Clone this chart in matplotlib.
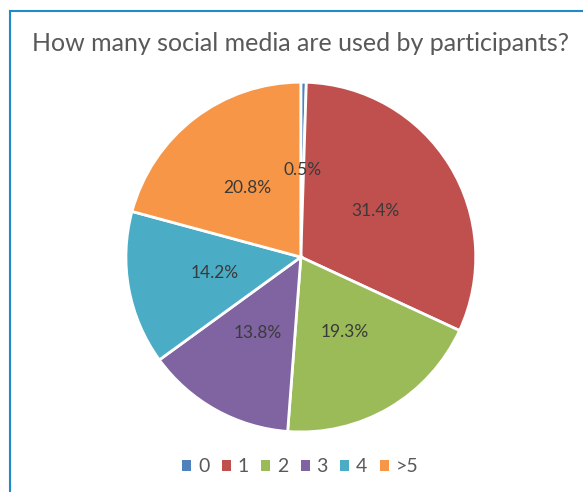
import matplotlib.pyplot as plt
from matplotlib.lines import Line2D
from matplotlib.patches import Patch

# data
categories = ['0', '1', '2', '3', '4', '>5']
shares = [0.5, 31.4, 19.3, 13.8, 14.2, 20.8]
colors = ['#4F81BD', '#C0504D', '#9BBB59', '#8064A2', '#4BACC6', '#F79646']
title = 'How many social media are used by participants?'

plt.rcParams['font.family'] = ['Lato', 'DejaVu Sans']

fig = plt.figure(figsize=(5.83, 4.92), dpi=100)
ax = fig.add_axes([0.216, 0.122, 0.600, 0.711])

wedges, texts, autotexts = ax.pie(
    shares, colors=colors, startangle=90, counterclock=False,
    autopct='%.1f%%', pctdistance=0.5,
    wedgeprops=dict(edgecolor='white', linewidth=2),
    textprops=dict(color='#3A3A3A', fontsize=12.5))
ax.set_aspect('equal')
ax.set_xlim(-1.0, 1.0)
ax.set_ylim(-1.0, 1.0)

fig.text(0.516, 0.912, title, ha='center', va='center', fontsize=18, color='#595959')

# legend below the pie
handles = [Patch(facecolor=c, edgecolor='none') for c in colors]
fig.legend(handles, categories, loc='center', bbox_to_anchor=(0.515, 0.051),
           ncol=6, frameon=False, handlelength=0.45, handleheight=0.45,
           handletextpad=0.35, columnspacing=0.65,
           fontsize=14, labelcolor='#595959')

# blue frame on top and left
fig.add_artist(Line2D([10 / 583, 1], [1 - 11 / 492, 1 - 11 / 492],
                      transform=fig.transFigure, color='#1F8AC8', linewidth=1.5))
fig.add_artist(Line2D([10 / 583, 10 / 583], [0, 1 - 11 / 492],
                      transform=fig.transFigure, color='#1F8AC8', linewidth=1.5))

fig.savefig('out.png', dpi=100)
